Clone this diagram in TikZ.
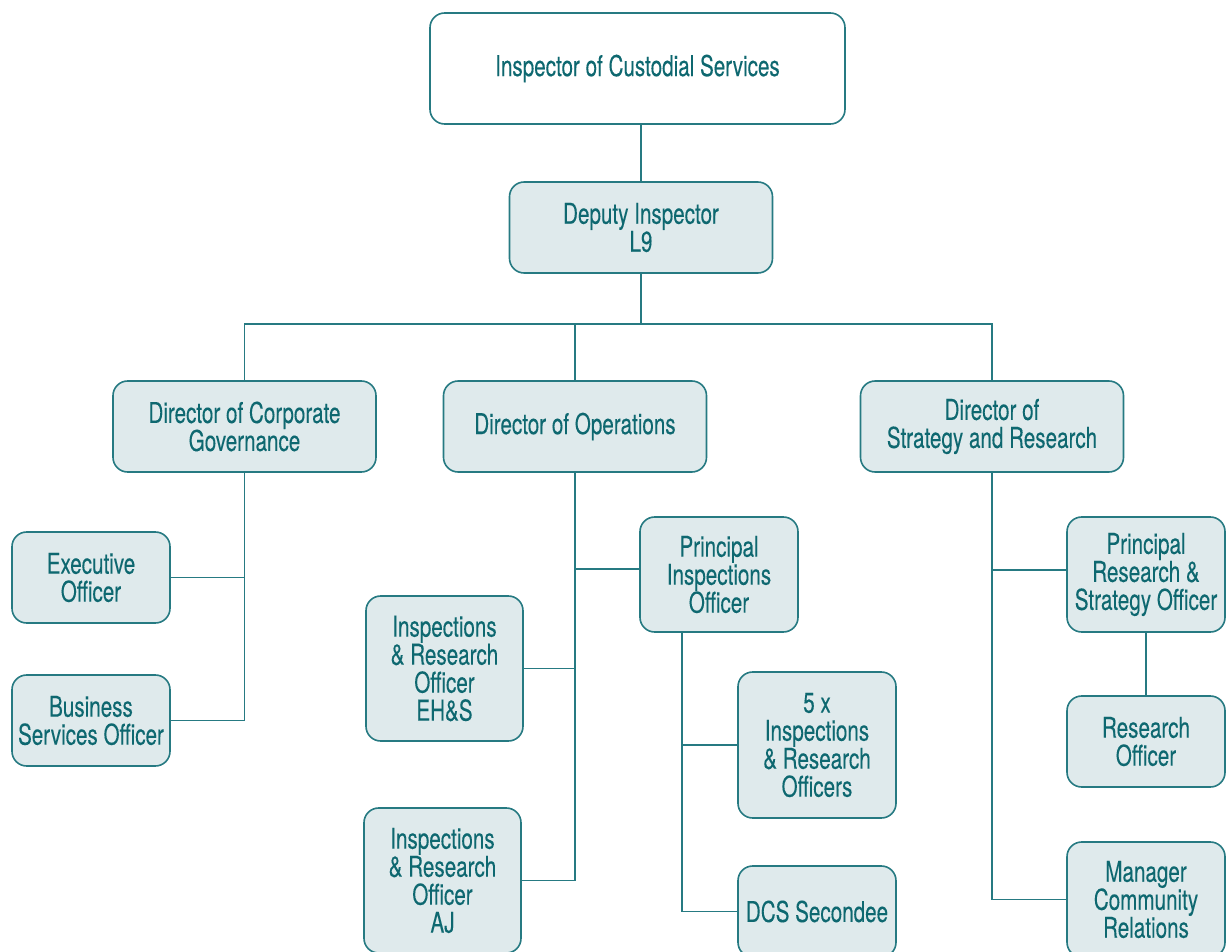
\documentclass[tikz,border=0pt]{standalone}
\usepackage{fontspec}
\setmainfont{TeX Gyre Heros}[FakeStretch=0.72, FakeBold=0.15]
\usepackage{tikz}
\usepackage{xcolor}
\usetikzlibrary{positioning, calc}

\definecolor{orgline}{RGB}{38,122,130}
\definecolor{orgtext}{RGB}{14,104,112}
\definecolor{orgfill}{RGB}{223,234,236}

\tikzset{
    post/.style={draw=orgline, line width=1.2pt, rounded corners=11pt, fill=orgfill,
        text=orgtext, align=center, inner sep=1pt,
        font=\fontsize{21.5}{21}\selectfont},
    link/.style={draw=orgline, line width=1.1pt}
}

\begin{document}
\begin{tikzpicture}[x=0.75pt, y=-0.75pt]
    \useasboundingbox (0, 0) rectangle (1227, 952);
    % top of the tree
    \node[post, fill=white, minimum width=311.25pt, minimum height=83.25pt] (dci) at (637.5, 68.5) {Inspector of Custodial Services};
    \node[post, minimum width=197.25pt, minimum height=68.25pt] (dep) at (641, 227.5) {Deputy Inspector\\L9};
    % directors
    \node[post, minimum width=197.25pt, minimum height=68.25pt] (dgov) at (244.5, 426.5) {Director of Corporate\\Governance};
    \node[post, minimum width=197.25pt, minimum height=68.25pt] (dops) at (575, 426.5) {Director of Operations};
    \node[post, minimum width=197.25pt, minimum height=68.25pt] (dstr) at (992, 426.5) {Director of\\Strategy and Research};
    % corporate governance
    \node[post, minimum width=118.5pt, minimum height=68.25pt] (exec) at (91, 577.5) {Executive\\Officer};
    \node[post, minimum width=118.5pt, minimum height=68.25pt] (busi) at (91, 720.5) {Business\\Services Officer};
    % operations
    \node[post, minimum width=118.5pt, minimum height=86.25pt] (pio) at (719, 574.5) {Principal\\Inspections\\Officer};
    \node[post, minimum width=117.75pt, minimum height=108.75pt] (ehs) at (444.5, 668.5) {Inspections\\\& Research\\Officer\\EH\&S};
    \node[post, minimum width=117.75pt, minimum height=108.75pt] (aj) at (442.5, 880.5) {Inspections\\\& Research\\Officer\\AJ};
    \node[post, minimum width=118.5pt, minimum height=109.5pt] (five) at (817, 745) {5 x\\Inspections\\\& Research\\Officers};
    \node[post, minimum width=118.5pt, minimum height=68.25pt] (dcs) at (817, 911.5) {DCS Secondee};
    % strategy and research
    \node[post, minimum width=118.5pt, minimum height=86.25pt] (prso) at (1146, 574.5) {Principal\\Research \&\\Strategy Officer};
    \node[post, minimum width=118.5pt, minimum height=68.25pt] (reso) at (1146, 741.5) {Research\\Officer};
    \node[post, minimum width=118.5pt, minimum height=86.25pt] (mcr) at (1146, 899.5) {Manager\\Community\\Relations};

    \coordinate (bus) at (641, 324);
    \coordinate (pdrop) at ([xshift=-27.75pt]pio.south);

    \draw[link] (dep.north) -- (dep.north |- dci.south);
    \draw[link] (dep.south) -- (bus);
    \draw[link] (dgov.north) |- (bus) -| (dstr.north);
    \draw[link] (dops.north) -- (dops.north |- bus);
    % branches
    \draw[link] (dgov.south) |- (busi.east);
    \draw[link] (exec.east) -- (exec.east -| dgov.south);
    \draw[link] (dops.south) |- (aj.east);
    \draw[link] (ehs.east) -- (ehs.east -| dops.south);
    \draw[link] ([yshift=4pt]pio.west) -- ([yshift=4pt]pio.west -| dops.south);
    \draw[link] (pdrop) |- (dcs.west);
    \draw[link] (five.west) -- (five.west -| pdrop);
    \draw[link] (dstr.south) |- (mcr.west);
    \draw[link] ([yshift=3.5pt]prso.west) -- ([yshift=3.5pt]prso.west -| dstr.south);
    \draw[link] (prso) -- (reso);
\end{tikzpicture}
\end{document}
